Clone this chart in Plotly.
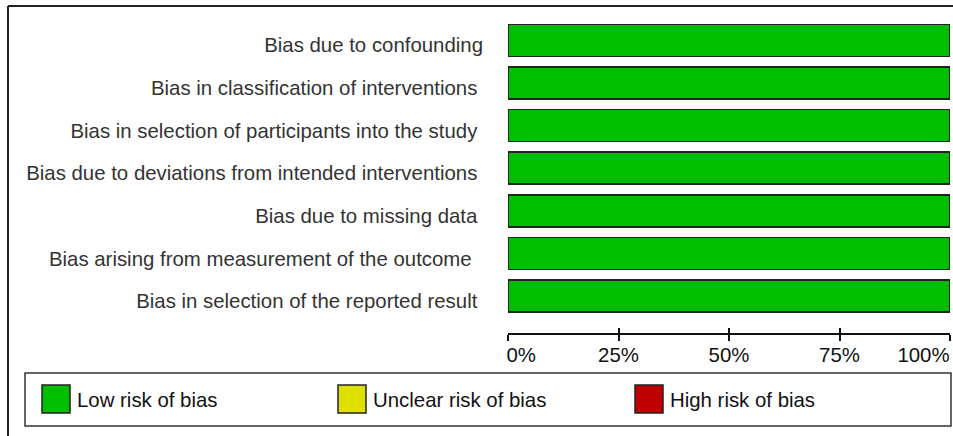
import plotly.graph_objects as go

# ---- data ----
domains = [
    "Bias due to confounding",
    "Bias in classification of interventions\u00a0",
    "Bias in selection of participants into the study\u00a0",
    "Bias due to deviations from intended interventions\u00a0",
    "Bias due to missing data\u00a0",
    "Bias arising from measurement of the outcome\u00a0\u00a0",
    "Bias in selection of the reported result\u00a0",
]
low_pct = [100, 100, 100, 100, 100, 100, 100]
unclear_pct = [0, 0, 0, 0, 0, 0, 0]
high_pct = [0, 0, 0, 0, 0, 0, 0]

risk_names = ["Low risk of bias", "Unclear risk of bias", "High risk of bias"]
risk_colors = ["#00bf00", "#e0e000", "#c00000"]

tick_vals = [0, 25, 50, 75, 100]
tick_labels = ["0%", "25%", "50%", "75%", "100%"]
label_pos = [3, 25, 50, 75, 94]

# ---- geometry (pixels) ----
W, H = 953, 436
L, R, T, B = 508, 3, 19, 103
PW, PH = W - L - R, H - T - B
FONT = "Liberation Sans, Arial, sans-serif"
FS = 20.4


def px_x(px):
    return (px - L) / PW


def px_y(py):
    return (H - B - py) / PH


fig = go.Figure()
series = [low_pct, unclear_pct, high_pct]
for name, vals, col in zip(risk_names, series, risk_colors):
    fig.add_trace(go.Bar(
        y=domains, x=vals, name=name, orientation="h",
        marker=dict(color=col, line=dict(color="#222222", width=1.5)),
        showlegend=False, hoverinfo="x+y",
    ))

# empty helper traces so overlay axes are drawn
fig.add_trace(go.Scatter(x=[None], y=[None], xaxis="x2", showlegend=False, hoverinfo="skip"))
fig.add_trace(go.Scatter(x=[None], y=[None], xaxis="x3", showlegend=False, hoverinfo="skip"))

shapes = []
annotations = []
# outer frame (top and left edges)
shapes.append(dict(type="line", xref="paper", yref="paper",
                   x0=px_x(8), x1=px_x(953), y0=px_y(6), y1=px_y(6),
                   line=dict(color="#222222", width=2)))
shapes.append(dict(type="line", xref="paper", yref="paper",
                   x0=px_x(8), x1=px_x(8), y0=px_y(6), y1=px_y(436),
                   line=dict(color="#222222", width=2)))
# legend box
shapes.append(dict(type="rect", xref="paper", yref="paper",
                   x0=px_x(25), x1=px_x(951), y0=px_y(373), y1=px_y(426),
                   line=dict(color="#333333", width=1.5), fillcolor="white"))
sw_x = [42, 338, 635]
for sx, name, col in zip(sw_x, risk_names, risk_colors):
    shapes.append(dict(type="rect", xref="paper", yref="paper",
                       x0=px_x(sx), x1=px_x(sx + 28), y0=px_y(385), y1=px_y(413),
                       line=dict(color="#222222", width=1.5), fillcolor=col))
    annotations.append(dict(xref="paper", yref="paper", x=px_x(sx + 33), y=px_y(400),
                            text=name, showarrow=False, xanchor="left", yanchor="middle",
                            font=dict(family=FONT, size=FS, color="#111111")))

fig.update_layout(
    width=W, height=H,
    margin=dict(l=L, r=R, t=T, b=B, pad=0),
    barmode="stack", bargap=0.25,
    plot_bgcolor="white", paper_bgcolor="white",
    font=dict(family=FONT, size=FS, color="#111111"),
    xaxis=dict(range=[0, 100], tickvals=tick_vals, showticklabels=False,
               ticks="outside", ticklen=6, tickwidth=2, tickcolor="#111111",
               showline=True, linecolor="#111111", linewidth=2,
               showgrid=False, zeroline=False, fixedrange=True),
    xaxis2=dict(range=[0, 100], overlaying="x", anchor="y", side="bottom",
                tickvals=tick_vals, showticklabels=False,
                ticks="inside", ticklen=5, tickwidth=2, tickcolor="#111111",
                showline=False, showgrid=False, zeroline=False, fixedrange=True),
    xaxis3=dict(range=[0, 100], overlaying="x", anchor="y", side="bottom",
                tickvals=label_pos, ticktext=tick_labels, ticks="",
                ticklabelstandoff=8,
                tickfont=dict(family=FONT, size=FS, color="#111111"),
                showline=False, showgrid=False, zeroline=False, fixedrange=True),
    yaxis=dict(type="category", categoryorder="array", categoryarray=domains,
               range=[6.867, -0.5], ticks="", showline=False, showgrid=False,
               zeroline=False, ticklabelstandoff=24, ticklabelshift=-5,
               fixedrange=True,
               tickfont=dict(family=FONT, size=FS, color="#333333")),
    shapes=shapes, annotations=annotations,
)

fig.write_html("out.html", config={"displayModeBar": False},
               post_script="document.body.style.margin='0';document.body.style.overflow='hidden';")
